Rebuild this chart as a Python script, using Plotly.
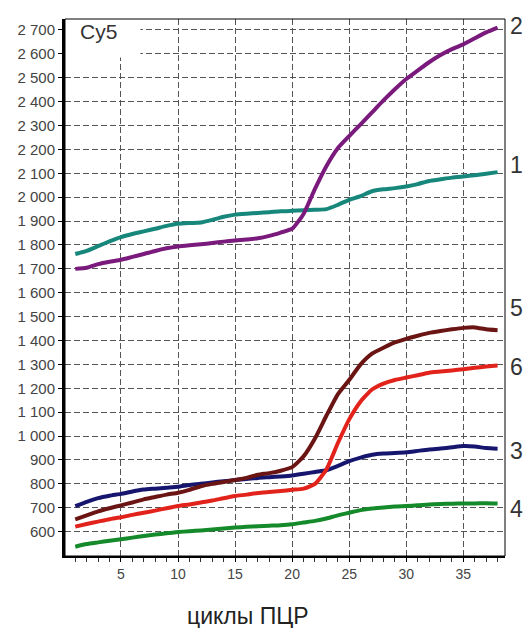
import plotly.graph_objects as go

cycles = list(range(1, 39))

curve1 = [1762, 1775, 1795, 1815, 1833, 1846, 1857, 1868, 1880, 1889,
          1892, 1894, 1905, 1918, 1927, 1931, 1934, 1937, 1941, 1943,
          1945, 1947, 1950, 1968, 1989, 2005, 2025, 2033, 2038, 2045,
          2055, 2068, 2075, 2082, 2087, 2092, 2098, 2105]
curve2 = [1700, 1705, 1720, 1730, 1738, 1750, 1762, 1775, 1786, 1794,
          1799, 1803, 1808, 1814, 1819, 1823, 1828, 1838, 1852, 1868,
          1930, 2035, 2130, 2205, 2256, 2305, 2355, 2405, 2452, 2495,
          2530, 2565, 2595, 2620, 2640, 2665, 2690, 2710]
curve3 = [707, 725, 740, 750, 758, 768, 776, 780, 784, 788,
          795, 800, 806, 811, 816, 820, 825, 828, 831, 835,
          842, 850, 857, 875, 895, 910, 922, 927, 929, 932,
          938, 944, 948, 953, 958, 956, 950, 947]
curve4 = [537, 548, 555, 562, 568, 575, 582, 588, 593, 598,
          602, 605, 609, 613, 617, 620, 623, 625, 627, 631,
          638, 645, 655, 668, 679, 690, 697, 701, 705, 707,
          710, 714, 716, 717, 718, 718, 719, 718]
curve5 = [651, 668, 685, 698, 710, 722, 735, 745, 755, 763,
          775, 790, 800, 808, 816, 825, 838, 845, 855, 870,
          915, 990, 1085, 1175, 1235, 1300, 1345, 1370, 1392, 1407,
          1420, 1432, 1440, 1447, 1453, 1455, 1447, 1443]
curve6 = [621, 632, 642, 652, 660, 670, 679, 688, 698, 707,
          714, 722, 730, 740, 749, 755, 762, 766, 770, 775,
          780, 800, 860, 970, 1070, 1145, 1195, 1220, 1235, 1245,
          1255, 1265, 1270, 1275, 1280, 1286, 1291, 1295]

series_names = ["1", "2", "3", "4", "5", "6"]
series_values = [curve1, curve2, curve3, curve4, curve5, curve6]
series_colors = ["#17877c", "#7a1a7c", "#16166e", "#158a2a", "#6a1414", "#e2231c"]
label_y = [2136, 2717, 936, 693, 1538, 1291]

y_ticks = list(range(600, 2701, 100))

FONT = "Liberation Sans, Arial, sans-serif"

fig = go.Figure()
for name, vals, col in zip(series_names, series_values, series_colors):
    fig.add_trace(go.Scatter(x=cycles, y=vals, mode="lines", name=name,
                             line=dict(color=col, width=4, shape="spline", smoothing=0.5),
                             showlegend=False))

for name, ly in zip(series_names, label_y):
    fig.add_annotation(x=1.0, xref="paper", xanchor="left", xshift=3,
                       y=ly, yref="y", yanchor="middle", text=name,
                       showarrow=False, font=dict(size=23, color="#333333", family=FONT))

# white box behind the "Cy5" label
fig.add_shape(type="rect", xref="x", yref="y", x0=0.1, x1=6.7, y0=2585, y1=2746,
              fillcolor="white", line=dict(width=0), layer="between")
fig.add_annotation(x=0.03, xref="paper", xanchor="left", y=2695, yref="y", yanchor="middle",
                   text="Cy5", showarrow=False, font=dict(size=21, color="#333333", family=FONT))

# thin frame on top/right
fig.add_shape(type="rect", xref="paper", yref="paper", x0=0, x1=1, y0=0, y1=1,
              line=dict(color="black", width=1), fillcolor="rgba(0,0,0,0)", layer="above")

fig.add_annotation(x=(248 - 65) / 440.0, xref="paper", y=0, yref="paper", yanchor="middle",
                   yshift=-60, text="циклы ПЦР", showarrow=False,
                   font=dict(size=23, color="#222222", family=FONT))

fig.update_xaxes(range=[0.1, 38.65], tick0=0, dtick=5, ticks="outside", ticklen=4,
                 tickcolor="black", showline=True, linecolor="black", linewidth=2,
                 showgrid=True, gridcolor="#555555", gridwidth=1, griddash="6px,3px",
                 zeroline=False, tickfont=dict(size=14, color="#444444", family=FONT),
                 minor=dict(dtick=1, tick0=0, ticks="outside", ticklen=4, tickcolor="#333333",
                            showgrid=False))
fig.update_yaxes(range=[498, 2746], tickvals=y_ticks, tickformat=",d", ticks="outside",
                 ticklen=4, tickcolor="black", showline=True, linecolor="black", linewidth=3,
                 showgrid=True, gridcolor="#555555", gridwidth=1, griddash="6px,3px",
                 zeroline=False, tickfont=dict(size=15, color="#444444", family=FONT))

fig.update_layout(width=523, height=628, margin=dict(l=65, r=18, t=19, b=72),
                  paper_bgcolor="white", plot_bgcolor="white", separators=". ",
                  font=dict(family=FONT))

fig.write_html("out.html")
